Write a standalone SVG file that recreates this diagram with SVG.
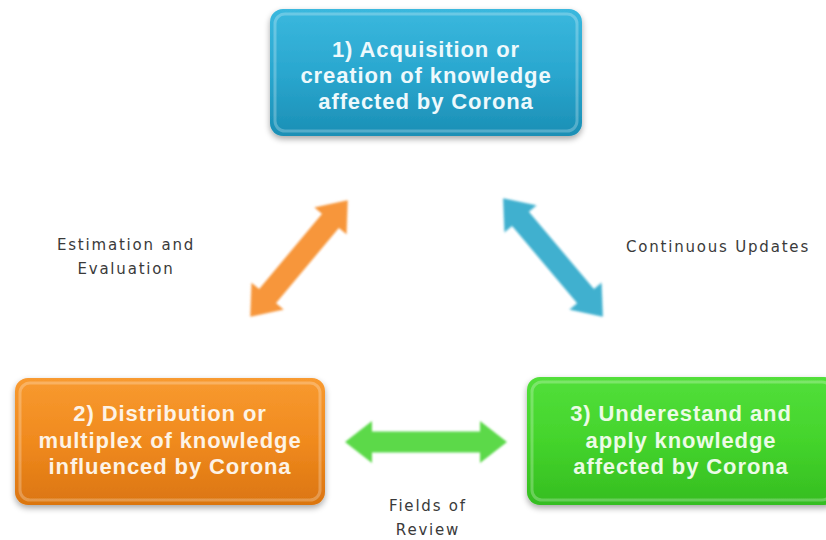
<svg xmlns="http://www.w3.org/2000/svg" width="826" height="540" viewBox="0 0 826 540">
<style>
.node-text{font-family:"Liberation Sans","Arial",sans-serif;font-weight:bold;font-size:22px;letter-spacing:0.9px;text-anchor:middle}
.t1{fill:#eef9fc}
.t2{fill:#fdf3e6}
.t3{fill:#ecfbe6}
.label{font-family:"DejaVu Sans","Liberation Sans",sans-serif;font-size:15px;letter-spacing:1.8px;fill:#3a3a3a;text-anchor:middle}
.hl{fill:none;stroke:#ffffff;stroke-opacity:0.25;stroke-width:3}
</style>
<defs>
<linearGradient id="gBlue" x1="0" y1="0" x2="0" y2="1">
<stop offset="0" stop-color="#3ab8de"/><stop offset="0.5" stop-color="#2aa7cf"/><stop offset="1" stop-color="#1b8fb5"/>
</linearGradient>
<linearGradient id="gOrange" x1="0" y1="0" x2="0" y2="1">
<stop offset="0" stop-color="#f89a30"/><stop offset="0.5" stop-color="#f08a1e"/><stop offset="1" stop-color="#db7510"/>
</linearGradient>
<linearGradient id="gGreen" x1="0" y1="0" x2="0" y2="1">
<stop offset="0" stop-color="#52df3a"/><stop offset="0.5" stop-color="#44d42c"/><stop offset="1" stop-color="#35bd20"/>
</linearGradient>
<filter id="shadow" x="-10%" y="-10%" width="120%" height="130%">
<feGaussianBlur in="SourceAlpha" stdDeviation="3"/>
<feOffset dx="0" dy="3" result="b"/>
<feComponentTransfer><feFuncA type="linear" slope="0.35"/></feComponentTransfer>
<feMerge><feMergeNode/><feMergeNode in="SourceGraphic"/></feMerge>
</filter>
<filter id="soft" x="-10%" y="-10%" width="120%" height="120%">
<feGaussianBlur stdDeviation="0.8"/>
</filter>
</defs>
<rect width="826" height="540" fill="#ffffff"/>
<g id="connectors">
<g transform="translate(299,258.5) rotate(-50.1)">
<polygon fill="#f7963a" filter="url(#soft)" points="-76,0 -49,-21 -49,-11 49,-11 49,-21 76,0 49,21 49,11 -49,11 -49,21"/>
</g>
<g transform="translate(553,257.5) rotate(49.9)">
<polygon fill="#3fb0cf" filter="url(#soft)" points="-77.5,0 -50.5,-21 -50.5,-11 50.5,-11 50.5,-21 77.5,0 50.5,21 50.5,11 -50.5,11 -50.5,21"/>
</g>
<g transform="translate(426,442)">
<polygon fill="#5bd94a" filter="url(#soft)" points="-81,0 -54,-21 -54,-10.5 54,-10.5 54,-21 81,0 54,21 54,10.5 -54,10.5 -54,21"/>
</g>
<text class="label" x="126" y="250">Estimation and</text>
<text class="label" x="126" y="274">Evaluation</text>
<text class="label" x="718" y="252">Continuous Updates</text>
<text class="label" x="428" y="511">Fields of</text>
<text class="label" x="428" y="535">Review</text>
</g>
<g id="node1">
<rect x="270" y="9" width="312" height="127" rx="13" fill="url(#gBlue)" filter="url(#shadow)"/>
<rect x="275" y="14" width="302" height="117" rx="10" class="hl"/>
<text class="node-text t1" x="426" y="57">1) Acquisition or</text>
<text class="node-text t1" x="426" y="83">creation of knowledge</text>
<text class="node-text t1" x="426" y="109">affected by Corona</text>
</g>
<g id="node2">
<rect x="15" y="378" width="310" height="127" rx="13" fill="url(#gOrange)" filter="url(#shadow)"/>
<rect x="20" y="383" width="300" height="117" rx="10" class="hl"/>
<text class="node-text t2" x="170" y="421">2) Distribution or</text>
<text class="node-text t2" x="170" y="448">multiplex of knowledge</text>
<text class="node-text t2" x="170" y="474">influenced by Corona</text>
</g>
<g id="node3">
<rect x="527" y="377" width="310" height="128" rx="13" fill="url(#gGreen)" filter="url(#shadow)"/>
<rect x="532" y="382" width="300" height="118" rx="10" class="hl"/>
<text class="node-text t3" x="681" y="421">3) Underestand and</text>
<text class="node-text t3" x="681" y="448">apply knowledge</text>
<text class="node-text t3" x="681" y="474">affected by Corona</text>
</g>
</svg>
